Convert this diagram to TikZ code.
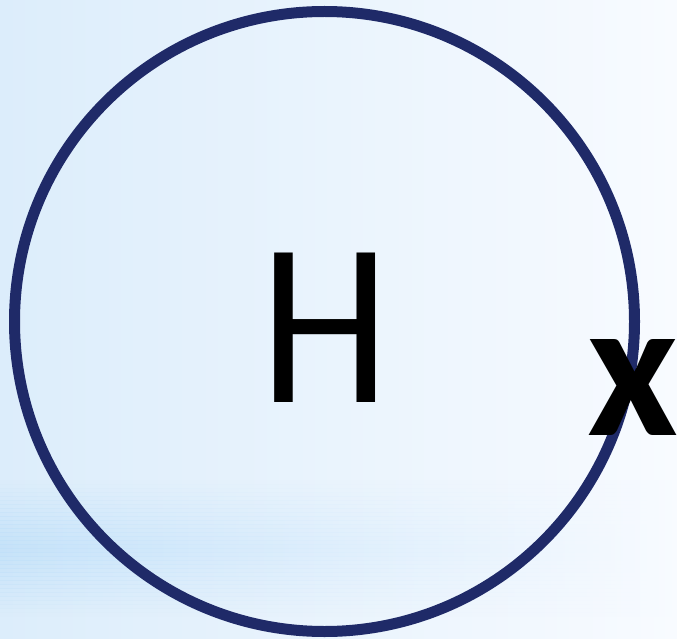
\documentclass[tikz,border=0pt]{standalone}
\usepackage{fontspec}
\setmainfont{Carlito}
\usepackage{tikz}
\definecolor{RingBlue}{RGB}{31,42,104}
\definecolor{SkyBlue}{RGB}{220,237,251}
\definecolor{BandBlue}{RGB}{192,224,249}
\definecolor{PaleBlue}{RGB}{248,251,255}

\begin{document}
\begin{tikzpicture}[x=1pt,y=-1pt]
\tikzset{ring/.style={draw=RingBlue,circle,line width=11pt,minimum size=620pt,inner sep=0pt},
  atom/.style={anchor=base,inner sep=0pt,xscale=.89,font=\fontsize{233}{233}\selectfont},
  elec/.style={anchor=base,inner sep=0pt,font=\bfseries\fontsize{198}{198}\selectfont}}
\useasboundingbox (0,0) rectangle (677,639);
% background
\shade[left color=SkyBlue,right color=PaleBlue] (0,0) rectangle (677,639);
\foreach \k in {0,...,33}
  \pgfmathsetmacro\op{0.8*(1-abs(\k-16.5)/17)}
  \shade[left color=BandBlue,right color=PaleBlue,opacity=\op] (0,480+4*\k) rectangle (677,484+4*\k);
\node[ring] (orbit) at (324.5,321.5) {};
\node[atom] (nucleus) at (325,402) {H};
\node[elec] (electron) at (633,435) {x};
\end{tikzpicture}
\end{document}
